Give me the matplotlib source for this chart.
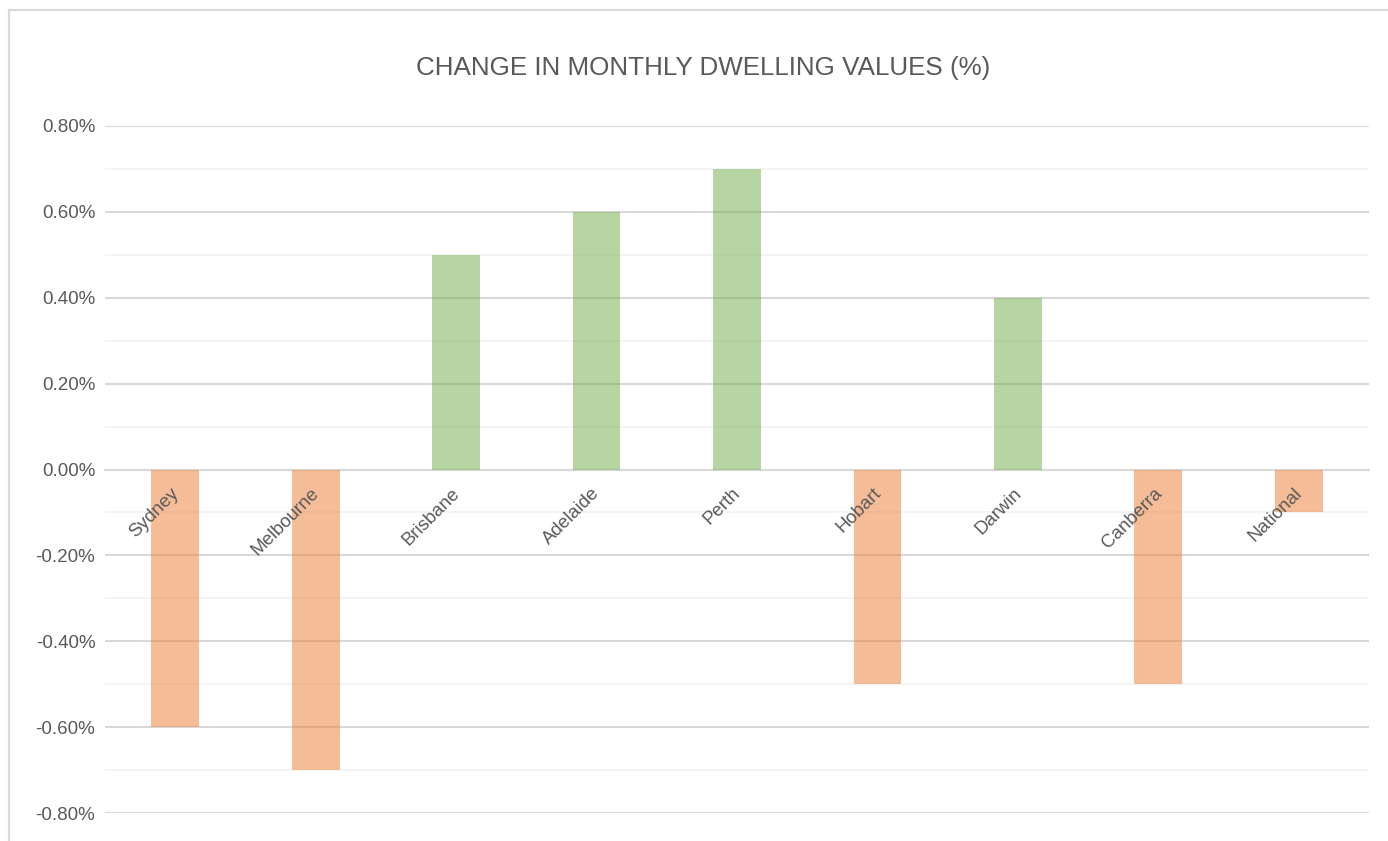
import matplotlib.pyplot as plt
from matplotlib.patches import Rectangle
from matplotlib.ticker import FuncFormatter, MultipleLocator

plt.rcParams['font.family'] = ['Liberation Sans', 'DejaVu Sans']

ciudades = ["Sydney", "Melbourne", "Brisbane", "Adelaide", "Perth",
            "Hobart", "Darwin", "Canberra", "National"]
cambio = [-0.6, -0.7, 0.5, 0.6, 0.7, -0.5, 0.4, -0.5, -0.1]

colores = ['#70AD47' if v > 0 else '#ED7D31' for v in cambio]

fig = plt.figure(figsize=(13.88, 8.41), dpi=100)
ax = fig.add_axes([105 / 1388, 1 - 813 / 841, 1264 / 1388, 687 / 841])

# borde del grafico (recortado a la derecha y abajo)
fig.patches.append(Rectangle((9 / 1388, -0.1), 1.2, 1 - 10 / 841 + 0.1,
                             transform=fig.transFigure, fill=False,
                             edgecolor='#D9D9D9', lw=1.6, zorder=0))

x = list(range(len(ciudades)))
ax.bar(x, cambio, width=0.34, color=colores, alpha=0.5, zorder=3)

ax.set_xlim(-0.5, len(ciudades) - 0.5)
ax.set_ylim(-0.8, 0.8)
ax.yaxis.set_major_locator(MultipleLocator(0.2))
ax.yaxis.set_minor_locator(MultipleLocator(0.1))
ax.yaxis.set_major_formatter(FuncFormatter(lambda v, p: f"{v:.2f}%"))
ax.grid(axis='y', which='major', color='#D9D9D9', lw=1.5, zorder=1)
ax.grid(axis='y', which='minor', color='#F2F2F2', lw=1.2, zorder=1)

for s in ['top', 'right', 'left']:
    ax.spines[s].set_visible(False)
ax.spines['bottom'].set_position(('data', 0))
ax.spines['bottom'].set_color('#D9D9D9')
ax.spines['bottom'].set_linewidth(1.5)
ax.spines['bottom'].set_zorder(2)

ax.set_xticks(x)
ax.set_xticklabels([])
ax.tick_params(axis='x', length=0)
ax.tick_params(axis='y', which='both', length=0, pad=7, labelsize=13.5, labelcolor='#595959')

# etiquetas de categoria junto al eje, encima de las barras
for i, nombre in enumerate(ciudades):
    ax.annotate(nombre, (i, 0), xytext=(5, -11), textcoords='offset points',
                rotation=45, ha='right', va='top', fontsize=13.4,
                color='#595959', zorder=5)

fig.text(703 / 1388, 1 - 68 / 841, "CHANGE IN MONTHLY DWELLING VALUES (%)",
         ha='center', va='center', fontsize=18.7, color='#595959')

fig.savefig("out.png", dpi=100)
